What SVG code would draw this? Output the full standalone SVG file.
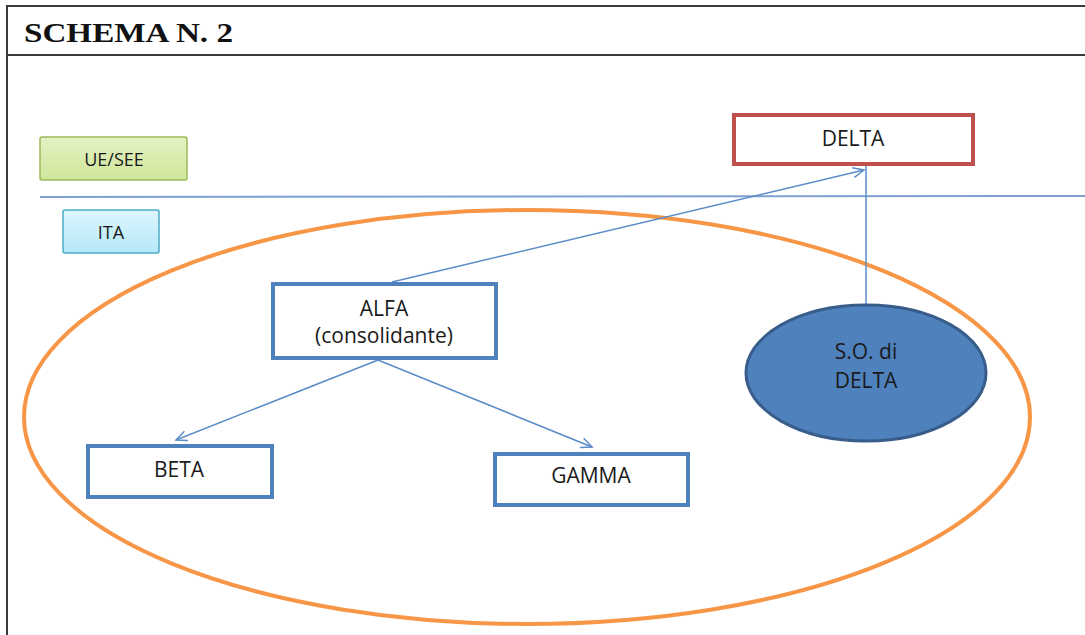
<svg xmlns="http://www.w3.org/2000/svg" width="1085" height="635" viewBox="0 0 1085 635">
<style>
.t{font-family:"Open Sans","Liberation Sans",sans-serif;font-size:21px;fill:#1a1a1a;text-anchor:middle}
.s{font-size:18px}
.box{fill:#fff;stroke:#4f81bd;stroke-width:4}
.conn{stroke:#5b8cc8;stroke-width:1.5;fill:none}
</style>
<defs>
<linearGradient id="gG" x1="0" y1="0" x2="0" y2="1"><stop offset="0" stop-color="#e4f1c4"/><stop offset="1" stop-color="#cfe79a"/></linearGradient>
<linearGradient id="gB" x1="0" y1="0" x2="0" y2="1"><stop offset="0" stop-color="#def6fd"/><stop offset="1" stop-color="#b4e8fa"/></linearGradient>
<marker id="arr" markerWidth="14" markerHeight="12" refX="12" refY="6" orient="auto" markerUnits="userSpaceOnUse"><path d="M1,1 L12,6 L1,11" fill="none" stroke="#5b8cc8" stroke-width="1.5"/></marker>
</defs>
<rect width="1085" height="635" fill="#fff"/>
<g id="frame" fill="none" stroke="#3a3a3a" stroke-width="2">
<path d="M1085,6 H7 V635"/>
<path d="M7,55 H1085"/>
</g>
<text x="24" y="42" font-family="Liberation Serif,serif" font-weight="bold" font-size="27" fill="#111" textLength="209" lengthAdjust="spacingAndGlyphs">SCHEMA N. 2</text>
<line x1="40" y1="197" x2="1085" y2="196" stroke="#7ea1d2" stroke-width="2"/>
<ellipse id="ita-area" cx="527" cy="417" rx="503" ry="207" fill="none" stroke="#f79646" stroke-width="4"/>
<g id="ue"><rect x="40" y="137" width="147" height="43" rx="2" fill="url(#gG)" stroke="#9bbb59" stroke-width="1.5"/><text class="t s" x="114" y="166">UE/SEE</text></g>
<g id="ita"><rect x="63" y="210" width="96" height="43" rx="2" fill="url(#gB)" stroke="#4bacc6" stroke-width="1.5"/><text class="t s" x="111" y="239">ITA</text></g>
<g id="connectors">
<line class="conn" x1="866" y1="165" x2="866" y2="305"/>
<line class="conn" x1="392" y1="282" x2="864" y2="170" marker-end="url(#arr)"/>
<line class="conn" x1="378" y1="360" x2="176" y2="440" marker-end="url(#arr)"/>
<line class="conn" x1="378" y1="360" x2="592" y2="447" marker-end="url(#arr)"/>
</g>
<g id="delta"><rect x="734" y="115" width="239" height="49" fill="#fff" stroke="#c0504d" stroke-width="4"/><text class="t" x="853" y="146">DELTA</text></g>
<g id="alfa"><rect class="box" x="273" y="284" width="223" height="74"/><text class="t" x="384" y="316">ALFA</text><text class="t" x="384" y="343">(consolidante)</text></g>
<g id="beta"><rect class="box" x="88" y="446" width="184" height="51"/><text class="t" x="179" y="477">BETA</text></g>
<g id="gamma"><rect class="box" x="495" y="454" width="193" height="51"/><text class="t" x="591" y="483">GAMMA</text></g>
<g id="so"><ellipse cx="866" cy="373" rx="120" ry="68" fill="#4f81bd" stroke="#385d8a" stroke-width="3"/><text class="t" x="866" y="359">S.O. di</text><text class="t" x="866" y="388">DELTA</text></g>
</svg>
